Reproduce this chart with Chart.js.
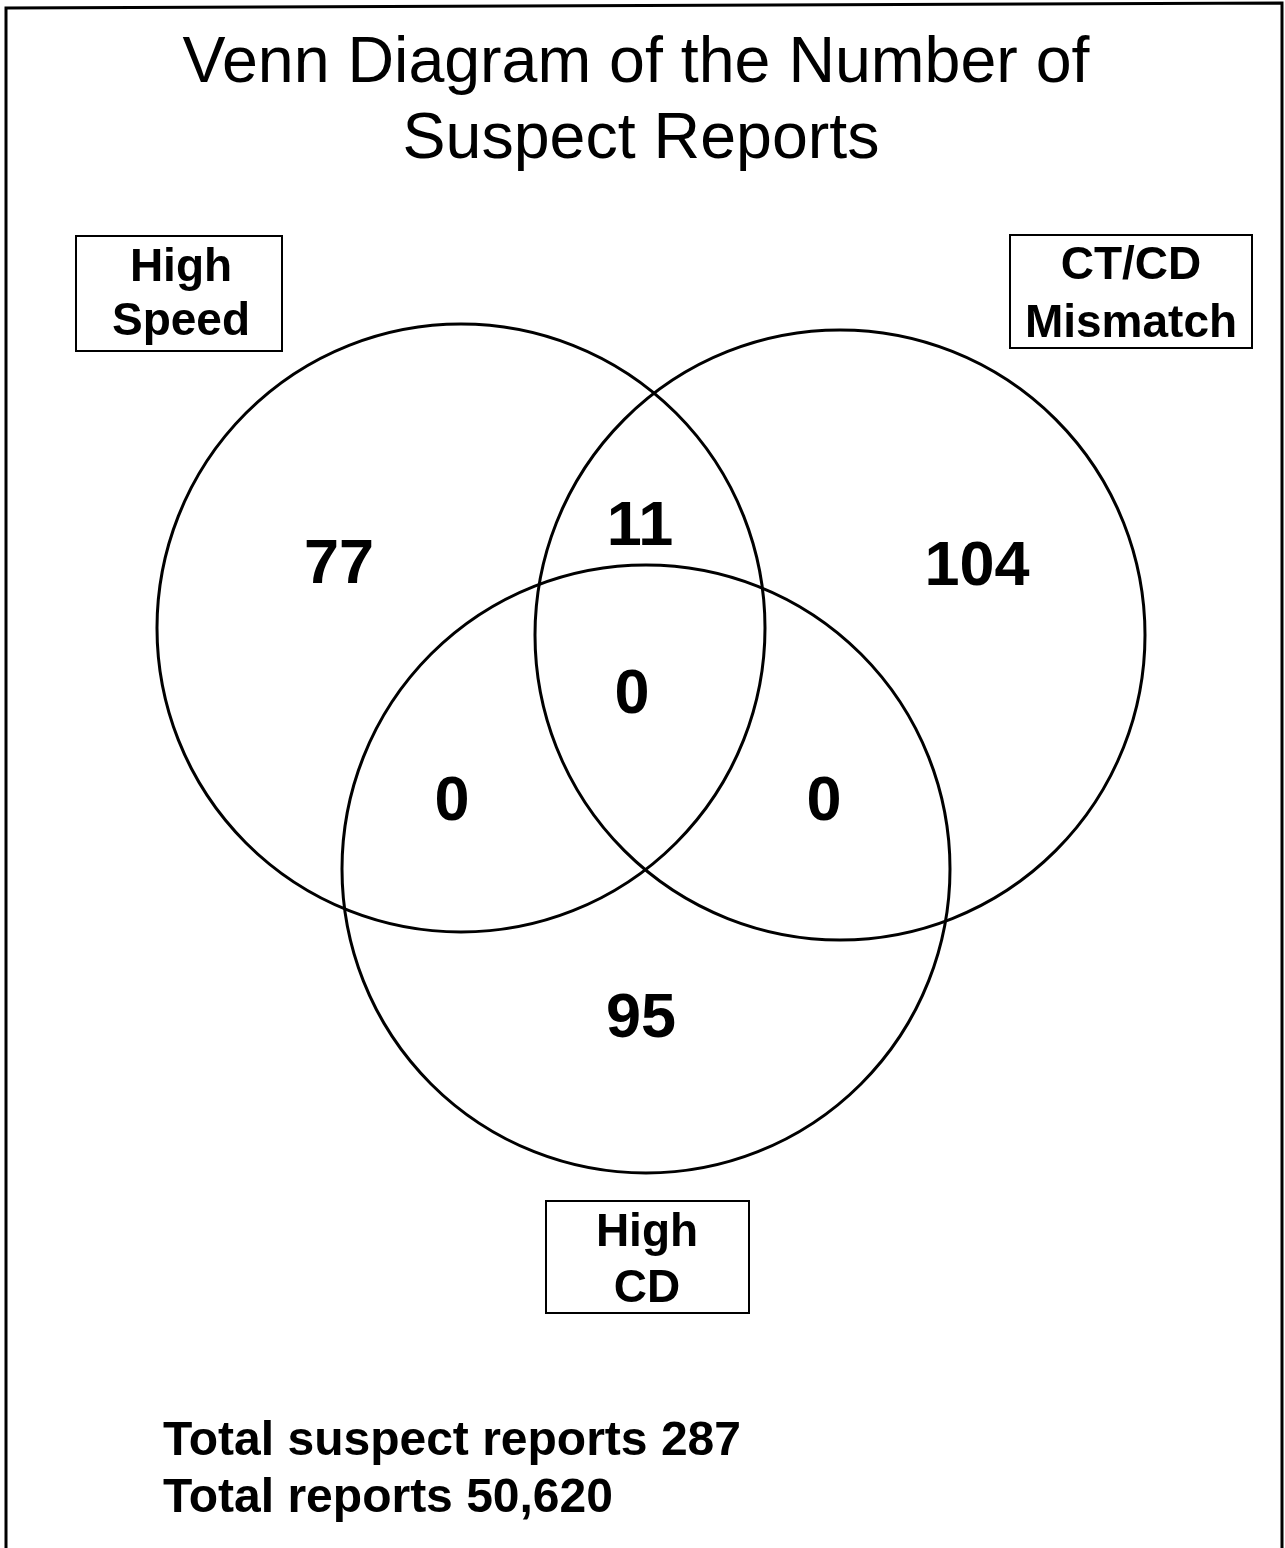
<!DOCTYPE html>
<html>
<head>
<meta charset="utf-8">
<title>Venn Diagram of the Number of Suspect Reports</title>
<script src="https://cdn.jsdelivr.net/npm/chart.js@4/dist/chart.umd.min.js"></script>
<style>
  html, body { margin: 0; padding: 0; background: #fff; }
  #venn { display: block; }
</style>
</head>
<body>
<canvas id="venn" width="1285" height="1548"></canvas>
<script>
// sets and their circles (centre + radius, in page units)
const setNames = ['High Speed', 'CT/CD Mismatch', 'High CD'];
const circleX = [461, 840, 646];
const circleY = [628, 635, 869];
const circleR = [304, 305, 304];

// region counts
const regions = ['High Speed only', 'CT/CD Mismatch only', 'High CD only',
  'High Speed & CT/CD', 'High Speed & High CD', 'CT/CD & High CD', 'All three'];
const regionCounts = [77, 104, 95, 11, 0, 0, 0];

const totalSuspect = 287;
const totalReports = 50620;

const titleLines = ['Venn Diagram of the Number of', 'Suspect Reports'];

// where things sit on the page
const layout = {
  regionAt: [[339, 583], [977, 585], [641, 1037], [640, 545], [452, 820], [824, 820], [632, 713]],
  boxes: [
    { l: 76, t: 236, r: 282, b: 351, lines: ['High', 'Speed'], cx: 181, base: [281, 335] },
    { l: 1010, t: 235, r: 1252, b: 348, lines: ['CT/CD', 'Mismatch'], cx: 1131, base: [279, 337] },
    { l: 546, t: 1201, r: 749, b: 1313, lines: ['High', 'CD'], cx: 647, base: [1246, 1302] }
  ]
};

const FONT = '"Liberation Sans", Arial, Helvetica, sans-serif';

const vennText = {
  id: 'vennText',
  beforeDraw(chart) {
    const c = chart.ctx;
    c.save();
    c.fillStyle = '#fff';
    c.fillRect(0, 0, chart.width, chart.height);
    // page frame (open at the bottom)
    c.strokeStyle = '#000';
    c.lineWidth = 3;
    c.beginPath();
    c.moveTo(6, chart.height);
    c.lineTo(6, 8);
    c.lineTo(1282, 3);
    c.lineTo(1282, chart.height);
    c.stroke();
    c.restore();
  },
  afterDraw(chart) {
    const c = chart.ctx;
    const x = chart.scales.x, y = chart.scales.y;
    c.save();
    c.fillStyle = '#000';
    c.textAlign = 'center';
    c.textBaseline = 'alphabetic';

    c.font = '64.5px ' + FONT;
    c.fillText(titleLines[0], 636, 82);
    c.fillText(titleLines[1], 641, 158);

    c.font = 'bold 46px ' + FONT;
    c.strokeStyle = '#000';
    c.lineWidth = 2;
    layout.boxes.forEach(b => {
      c.strokeRect(b.l, b.t, b.r - b.l, b.b - b.t);
      b.lines.forEach((s, i) => c.fillText(s, b.cx, b.base[i]));
    });

    c.font = 'bold 63px ' + FONT;
    regionCounts.forEach((v, i) => {
      const p = layout.regionAt[i];
      c.fillText(String(v), x.getPixelForValue(p[0]), y.getPixelForValue(p[1]));
    });

    c.textAlign = 'left';
    c.font = 'bold 48px ' + FONT;
    c.fillText('Total suspect reports ' + totalSuspect, 163, 1455);
    c.fillText('Total reports ' + totalReports.toLocaleString('en-US'), 163, 1512);
    c.restore();
  }
};

new Chart(document.getElementById('venn'), {
  type: 'scatter',
  data: {
    datasets: [{
      label: 'Sets',
      data: setNames.map((n, i) => ({ x: circleX[i], y: circleY[i] })),
      pointRadius: ctx => {
        const sx = ctx.chart.scales.x;
        const i = ctx.dataIndex;
        if (!sx || circleR[i] === undefined) return 0;
        return sx.getPixelForValue(circleX[i] + circleR[i]) - sx.getPixelForValue(circleX[i]);
      },
      pointBackgroundColor: 'rgba(0,0,0,0)',
      pointBorderColor: '#000',
      pointBorderWidth: 3
    }]
  },
  options: {
    responsive: false,
    animation: false,
    events: [],
    layout: { padding: 0 },
    plugins: { legend: { display: false }, tooltip: { enabled: false } },
    scales: {
      x: { type: 'linear', display: false, min: 0, max: 1285 },
      y: { type: 'linear', display: false, min: 0, max: 1548, reverse: true }
    }
  },
  plugins: [vennText]
});
</script>
</body>
</html>
